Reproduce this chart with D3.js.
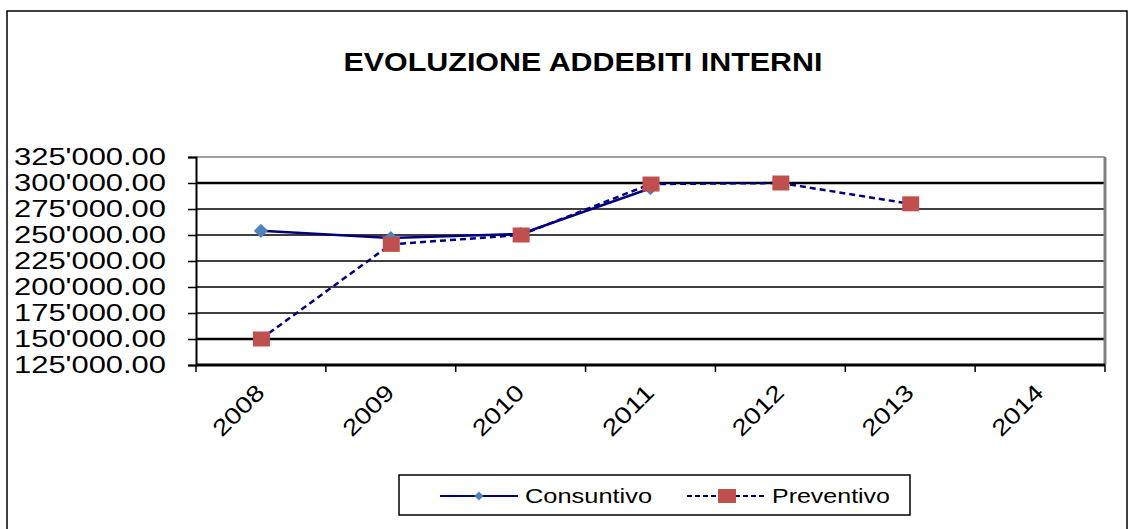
<!DOCTYPE html>
<html>
<head>
<meta charset="utf-8">
<script src="https://cdn.jsdelivr.net/npm/d3@7"></script>
<style>
  body { margin: 0; background: #fff; }
  text { font-family: "Liberation Sans", Arial, sans-serif; }
</style>
</head>
<body>
<div id="chart"></div>
<script>
// dati
const anni = ["2008", "2009", "2010", "2011", "2012", "2013", "2014"];
const consuntivo = [254000, 247000, 251000, 295000, null, null, null];
const preventivo = [150000, 241000, 250000, 299000, 300000, 280000, null];
const yTicks = [125000, 150000, 175000, 200000, 225000, 250000, 275000, 300000, 325000];

const W = 1130, H = 529;
const plot = { left: 196, right: 1105, top: 157, bottom: 365 };

const svg = d3.select("#chart").append("svg")
  .attr("width", W).attr("height", H);

// cornice esterna
svg.append("rect")
  .attr("x", 7).attr("y", 11)
  .attr("width", 1120).attr("height", 530)
  .attr("fill", "none").attr("stroke", "#000").attr("stroke-width", 1.5);

// titolo
svg.append("text")
  .attr("x", 583).attr("y", 71)
  .attr("text-anchor", "middle")
  .attr("font-size", 25).attr("font-weight", "bold")
  .attr("textLength", 479).attr("lengthAdjust", "spacingAndGlyphs")
  .text("EVOLUZIONE ADDEBITI INTERNI");

const x = d3.scaleBand().domain(anni).range([plot.left, plot.right]);
const y = d3.scaleLinear().domain([125000, 325000]).range([plot.bottom, plot.top]);

const fmt = d => d3.format(",.2f")(d).replace(/,/g, "'");

// griglia
svg.append("g")
  .selectAll("line")
  .data(yTicks.filter(d => d > 125000 && d < 325000))
  .enter().append("line")
  .attr("x1", plot.left).attr("x2", plot.right)
  .attr("y1", d => y(d)).attr("y2", d => y(d))
  .attr("stroke", "#000")
  .attr("stroke-width", d => (d === 300000 || d === 150000) ? 2.5 : 1.3);

// bordo area (sopra e destra grigi)
svg.append("line")
  .attr("x1", plot.left).attr("x2", plot.right)
  .attr("y1", y(325000)).attr("y2", y(325000))
  .attr("stroke", "#808080").attr("stroke-width", 1.5);
svg.append("line")
  .attr("x1", plot.right).attr("x2", plot.right)
  .attr("y1", plot.top).attr("y2", plot.bottom)
  .attr("stroke", "#808080").attr("stroke-width", 3);

// asse Y
const gY = svg.append("g")
  .attr("transform", `translate(${plot.left},0)`)
  .call(d3.axisLeft(y).tickValues(yTicks).tickFormat(fmt).tickSize(8).tickPadding(22));
gY.select(".domain").attr("stroke-width", 2);
gY.selectAll(".tick line").attr("stroke-width", 1.5);
gY.selectAll("text")
  .attr("font-size", 23.5)
  .attr("fill", "#000")
  .attr("textLength", 152).attr("lengthAdjust", "spacingAndGlyphs");

// asse X
const gX = svg.append("g")
  .attr("transform", `translate(0,${plot.bottom})`)
  .call(d3.axisBottom(x).tickSize(0).tickFormat(""));
gX.select(".domain").attr("stroke-width", 3).attr("d", `M${plot.left},0H${plot.right}`);
gX.selectAll(".tick").remove();

// tacche tra le categorie
svg.append("g")
  .selectAll("line")
  .data(anni.concat(["end"]))
  .enter().append("line")
  .attr("x1", (d, i) => plot.left + i * x.step())
  .attr("x2", (d, i) => plot.left + i * x.step())
  .attr("y1", plot.bottom).attr("y2", plot.bottom + 7)
  .attr("stroke", "#000").attr("stroke-width", 1.5);

// etichette anni ruotate
svg.append("g")
  .selectAll("text")
  .data(anni)
  .enter().append("text")
  .attr("transform", d => `translate(${x(d) + x.bandwidth() / 2 + 5},${plot.bottom + 29}) rotate(-45)`)
  .attr("text-anchor", "end")
  .attr("font-size", 23)
  .attr("textLength", 62).attr("lengthAdjust", "spacingAndGlyphs")
  .text(d => d);

const cx = d => x(d) + x.bandwidth() / 2;

const linea = d3.line()
  .defined(d => d.v != null)
  .x(d => cx(d.anno))
  .y(d => y(d.v));

const serieC = anni.map((a, i) => ({ anno: a, v: consuntivo[i] }));
const serieP = anni.map((a, i) => ({ anno: a, v: preventivo[i] }));

// Consuntivo
svg.append("path")
  .datum(serieC)
  .attr("d", linea)
  .attr("fill", "none")
  .attr("stroke", "#000080")
  .attr("stroke-width", 2.5);

svg.append("g")
  .selectAll("path")
  .data(serieC.filter(d => d.v != null))
  .enter().append("path")
  .attr("transform", d => `translate(${cx(d.anno)},${y(d.v)}) rotate(45)`)
  .attr("d", d3.symbol(d3.symbolSquare, 100))
  .attr("fill", "#4F81BD");

// Preventivo
svg.append("path")
  .datum(serieP)
  .attr("d", linea)
  .attr("fill", "none")
  .attr("stroke", "#000080")
  .attr("stroke-width", 2.5)
  .attr("stroke-dasharray", "6,4");

svg.append("g")
  .selectAll("rect")
  .data(serieP.filter(d => d.v != null))
  .enter().append("rect")
  .attr("x", d => cx(d.anno) - 8)
  .attr("y", d => y(d.v) - 7.5)
  .attr("width", 17).attr("height", 15)
  .attr("fill", "#C0504D");

// legenda
const leg = svg.append("g");
leg.append("rect")
  .attr("x", 399).attr("y", 475)
  .attr("width", 511).attr("height", 40)
  .attr("fill", "#fff").attr("stroke", "#000").attr("stroke-width", 1.5);

leg.append("line")
  .attr("x1", 440).attr("x2", 518).attr("y1", 496).attr("y2", 496)
  .attr("stroke", "#000080").attr("stroke-width", 2);
leg.append("path")
  .attr("transform", "translate(479,496) rotate(45)")
  .attr("d", d3.symbol(d3.symbolSquare, 40))
  .attr("fill", "#4F81BD");
leg.append("text")
  .attr("x", 525).attr("y", 503)
  .attr("font-size", 20)
  .attr("textLength", 127).attr("lengthAdjust", "spacingAndGlyphs")
  .text("Consuntivo");

leg.append("line")
  .attr("x1", 687).attr("x2", 766).attr("y1", 496).attr("y2", 496)
  .attr("stroke", "#000080").attr("stroke-width", 2)
  .attr("stroke-dasharray", "5,3");
leg.append("rect")
  .attr("x", 718).attr("y", 489)
  .attr("width", 18).attr("height", 14)
  .attr("fill", "#C0504D");
leg.append("text")
  .attr("x", 772).attr("y", 503)
  .attr("font-size", 20)
  .attr("textLength", 118).attr("lengthAdjust", "spacingAndGlyphs")
  .text("Preventivo");
</script>
</body>
</html>
